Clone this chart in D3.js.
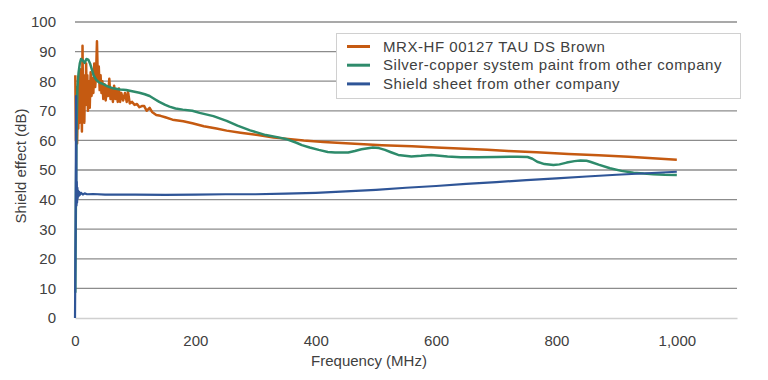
<!DOCTYPE html>
<html>
<head>
<meta charset="utf-8">
<script src="https://cdn.jsdelivr.net/npm/d3@7"></script>
<style>
  body { margin: 0; background: #fff; }
  svg text { font-family: "Liberation Sans", Arial, sans-serif; fill: #404040; }
</style>
</head>
<body>
<div id="chart"></div>
<script>
// series names, in legend order
const seriesNames = [
    "MRX-HF 00127 TAU DS Brown",
    "Silver-copper system paint from other company",
    "Shield sheet from other company"
];
const seriesColors = ["#c55a11", "#2e8b6b", "#2f5597"];

// [frequency MHz, shield effect dB]
const mrxData = [
    [0.5, 82], [1.5, 60], [2.5, 78], [3.5, 59], [4.5, 70], [5.5, 64], [6.5, 80], [7.5, 66],
    [8.5, 84], [9.5, 68], [10.5, 76], [11.5, 63], [12.5, 92], [13.5, 70], [14.5, 82], [15.5, 66],
    [16.5, 79], [17.5, 72], [18.5, 86], [19.5, 74], [20.5, 82], [21.5, 70], [23, 80], [24.5, 71],
    [26, 83], [27.5, 75], [29, 81], [30.5, 76], [32, 86], [33.5, 78], [35, 82], [36.5, 93.5],
    [38, 80], [39.5, 85], [41, 77], [42.5, 82], [44, 76], [45.5, 80], [47, 74], [49, 79],
    [51, 73.5], [53, 78], [55, 75], [57, 80.8], [59, 74], [61, 77], [63, 73], [65, 78.5],
    [67, 74], [69, 77], [71, 73], [73, 77.5], [75, 73], [77, 76], [80, 73.5], [83, 76],
    [86, 73], [88, 76.5], [91, 72.5], [95, 73], [99, 72], [103, 72.3], [107, 71.2], [111, 71.6],
    [115, 71.6], [119, 70], [124, 71], [128, 69.6], [135, 68.6], [142, 68.3], [150, 67.8],
    [162, 67], [180, 66.5], [195, 65.8], [214, 64.8], [235, 64], [252, 63.3], [275, 62.6],
    [304, 61.8], [330, 61], [350, 60.6], [380, 60], [413, 59.5], [450, 59], [510, 58.4],
    [560, 58], [600, 57.6], [638, 57.3], [685, 56.8], [720, 56.4], [767, 56], [820, 55.4],
    [870, 55], [920, 54.5], [960, 54], [1000, 53.5]
];
const silverData = [
    [0.5, 8.5], [1.5, 40], [2.5, 62], [4, 78], [6, 83], [8, 86], [10, 87.5], [13, 87],
    [16, 86.2], [19, 87.5], [22, 87.3], [25, 86], [28, 84], [31, 82], [35, 80.5], [40, 79.6],
    [47, 79], [55, 78.2], [63, 77.6], [75, 77.2], [85, 77], [95, 76.6], [107, 76.1], [116, 75.6],
    [124, 75], [132, 74], [140, 73], [150, 72], [157, 71.4], [167, 70.8], [179, 70.4], [195, 70],
    [207, 69.3], [230, 68.2], [252, 66.6], [270, 65], [291, 63.4], [317, 61.8], [336, 61.1],
    [350, 60.5], [368, 59.2], [377, 58.4], [390, 57.6], [405, 56.8], [420, 56.1], [432, 55.9],
    [454, 55.9], [465, 56.4], [476, 57], [495, 57.6], [505, 57.4], [515, 56.8], [525, 56],
    [537, 55.1], [559, 54.6], [575, 54.8], [592, 55.1], [619, 54.6], [641, 54.3], [669, 54.3],
    [700, 54.4], [735, 54.5], [752, 54.4], [760, 53.8], [768, 52.8], [780, 52], [795, 51.7],
    [805, 51.9], [817, 52.5], [830, 53], [840, 53.2], [850, 53.1], [856, 52.8], [870, 51.8],
    [889, 50.6], [908, 49.7], [928, 49.1], [945, 48.8], [961, 48.6], [980, 48.4], [1000, 48.3]
];
const sheetData = [
    [0, 0], [1, 30], [1.8, 75], [2.5, 38], [3, 46], [3.5, 39], [4, 44], [4.5, 40.5],
    [5, 43], [6, 41.2], [7, 42.6], [8, 41.6], [10, 42.3], [13, 41.7], [16, 42.1], [20, 41.8],
    [30, 41.9], [50, 41.7], [100, 41.7], [150, 41.6], [200, 41.7], [250, 41.8], [300, 41.8],
    [350, 42], [400, 42.3], [450, 42.8], [500, 43.3], [550, 44], [600, 44.6], [650, 45.3],
    [700, 45.9], [750, 46.6], [800, 47.2], [850, 47.8], [900, 48.4], [950, 48.9], [1000, 49.4]
];

const xTicks = [0, 200, 400, 600, 800, 1000];
const yTicks = [0, 10, 20, 30, 40, 50, 60, 70, 80, 90, 100];

const width = 768, height = 380;
const margin = { top: 22, right: 31, bottom: 62, left: 75 };

let svg = d3.select("#chart")
    .append("svg")
    .attr("width", width)
    .attr("height", height);

let x = d3.scaleLinear()
    .domain([0, 1100])
    .range([margin.left, width - margin.right]);

let y = d3.scaleLinear()
    .domain([0, 100])
    .range([height - margin.bottom, margin.top]);

// horizontal grid
svg.append("g")
    .selectAll("line")
    .data(yTicks.filter(d => d > 0))
    .enter()
    .append("line")
    .attr("x1", x(0))
    .attr("x2", x(1100))
    .attr("y1", d => y(d))
    .attr("y2", d => y(d))
    .attr("stroke", "#8c8c8c")
    .attr("stroke-width", 1.3);

// y axis labels
let yAxis = d3.axisLeft(y).tickValues(yTicks).tickSize(0).tickPadding(0);
let gy = svg.append("g")
    .attr("transform", "translate(" + (margin.left - 19) + ",0)")
    .call(yAxis);
gy.select(".domain").remove();
gy.selectAll("text").style("font-size", "15px").attr("fill", "#404040");

// x axis
let xAxis = d3.axisBottom(x).tickValues(xTicks).tickSize(0).tickPadding(17)
    .tickFormat(d3.format(","));
let gx = svg.append("g")
    .attr("transform", "translate(0," + y(0) + ")")
    .call(xAxis);
gx.select(".domain").attr("stroke", "#d0d0d0").attr("stroke-width", 1.3);
gx.selectAll("text").style("font-size", "15px").attr("fill", "#404040");

// series lines
let line = d3.line()
    .x(d => x(d[0]))
    .y(d => y(d[1]));

const allSeries = [mrxData, silverData, sheetData];
svg.append("g")
    .selectAll("path")
    .data(allSeries)
    .enter()
    .append("path")
    .attr("d", line)
    .attr("fill", "none")
    .attr("stroke", (d, i) => seriesColors[i])
    .attr("stroke-width", (d, i) => i == 2 ? 2.2 : 2.5)
    .attr("stroke-linejoin", "round");

// axis titles
svg.append("text")
    .attr("transform", "translate(26,166) rotate(-90)")
    .style("text-anchor", "middle")
    .style("font-size", "15px")
    .text("Shield effect (dB)");

svg.append("text")
    .attr("x", 369)
    .attr("y", 366)
    .style("text-anchor", "middle")
    .style("font-size", "15px")
    .text("Frequency (MHz)");

// legend
let legend = svg.append("g");
legend.append("rect")
    .attr("x", 336.5)
    .attr("y", 33.5)
    .attr("width", 404)
    .attr("height", 65)
    .attr("fill", "#fff")
    .attr("stroke", "#d0d0d0");

let items = legend.selectAll(".item")
    .data(seriesNames)
    .enter()
    .append("g")
    .attr("class", "item")
    .attr("transform", (d, i) => "translate(0," + (46.5 + i * 18.7) + ")");

items.append("line")
    .attr("x1", 347)
    .attr("x2", 370)
    .attr("stroke", (d, i) => seriesColors[i])
    .attr("stroke-width", 3);

items.append("text")
    .attr("x", 383)
    .attr("dy", "0.35em")
    .style("font-size", "15px")
    .style("letter-spacing", "0.55px")
    .attr("fill", "#202020")
    .text(d => d);
</script>
</body>
</html>
